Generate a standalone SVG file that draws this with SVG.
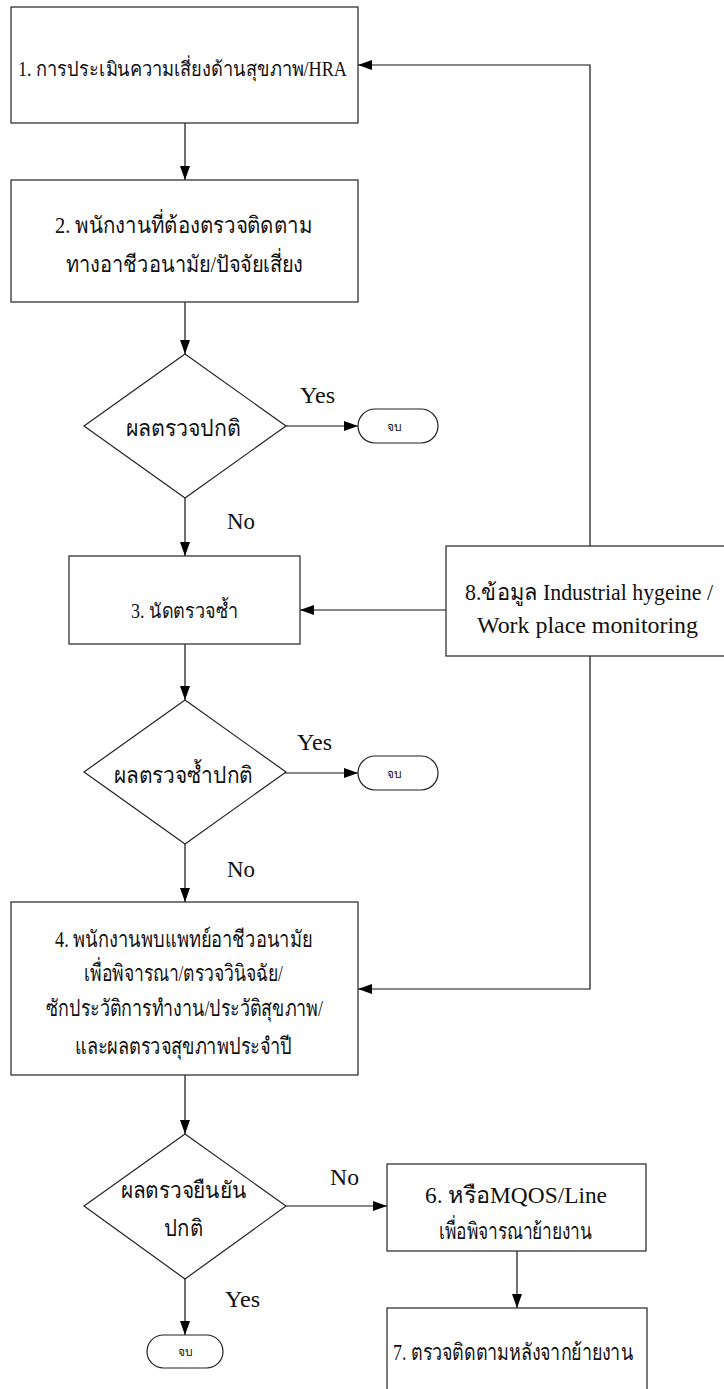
<svg xmlns="http://www.w3.org/2000/svg" width="724" height="1389" viewBox="0 0 724 1389">
<defs>
<marker id="arr" markerUnits="userSpaceOnUse" markerWidth="16" markerHeight="12" refX="15" refY="6" orient="auto">
<path d="M1,1 L15,6 L1,11 Z" fill="#000"/>
</marker>
<style>
.box{fill:#fff;stroke:#222;stroke-width:1.2}
.term{fill:#fff;stroke:#222;stroke-width:1.2}
.ln{fill:none;stroke:#111;stroke-width:1.2}
text{font-family:"Liberation Serif","Noto Sans",serif;fill:#111}
.t{font-size:23px}
.s{font-size:20px}
.lb{font-size:23px}
.e{font-size:12px}
</style>
</defs>
<rect width="724" height="1389" fill="#fff"/>
<g id="connectors">
<path class="ln" d="M185,123 V180" marker-end="url(#arr)"/>
<path class="ln" d="M185,302 V354" marker-end="url(#arr)"/>
<path class="ln" d="M285,426 H358" marker-end="url(#arr)"/>
<path class="ln" d="M185,498 V556" marker-end="url(#arr)"/>
<path class="ln" d="M185,644 V700" marker-end="url(#arr)"/>
<path class="ln" d="M285,773 H358" marker-end="url(#arr)"/>
<path class="ln" d="M185,844 V902" marker-end="url(#arr)"/>
<path class="ln" d="M185,1075 V1134" marker-end="url(#arr)"/>
<path class="ln" d="M285,1206 H387" marker-end="url(#arr)"/>
<path class="ln" d="M185,1279 V1335" marker-end="url(#arr)"/>
<path class="ln" d="M517,1251 V1308" marker-end="url(#arr)"/>
<path class="ln" d="M590,546 V65 H358" marker-end="url(#arr)"/>
<path class="ln" d="M446,610 H300" marker-end="url(#arr)"/>
<path class="ln" d="M590,656 V989 H358" marker-end="url(#arr)"/>
<text class="lb" x="300" y="403" textLength="35" lengthAdjust="spacingAndGlyphs">Yes</text>
<text class="lb" x="227" y="529" textLength="28" lengthAdjust="spacingAndGlyphs">No</text>
<text class="lb" x="297" y="750" textLength="35" lengthAdjust="spacingAndGlyphs">Yes</text>
<text class="lb" x="227" y="877" textLength="28" lengthAdjust="spacingAndGlyphs">No</text>
<text class="lb" x="330" y="1185" textLength="29" lengthAdjust="spacingAndGlyphs">No</text>
<text class="lb" x="225" y="1307" textLength="35" lengthAdjust="spacingAndGlyphs">Yes</text>
</g>
<g id="n1">
<rect class="box" x="11" y="7" width="347" height="116"/>
<text class="s" x="18" y="76" textLength="329" lengthAdjust="spacingAndGlyphs">1. การประเมินความเสี่ยงด้านสุขภาพ/HRA</text>
</g>
<g id="n2">
<rect class="box" x="11" y="180" width="347" height="122"/>
<text class="t" x="55" y="233" textLength="257" lengthAdjust="spacingAndGlyphs">2. พนักงานที่ต้องตรวจติดตาม</text>
<text class="t" x="66" y="272" textLength="237" lengthAdjust="spacingAndGlyphs">ทางอาชีวอนามัย/ปัจจัยเสี่ยง</text>
</g>
<g id="d1">
<polygon class="box" points="185,354 286,426 185,498 84,426"/>
<text class="t" x="126" y="436" textLength="115" lengthAdjust="spacingAndGlyphs">ผลตรวจปกติ</text>
</g>
<g id="e1">
<rect class="term" x="358" y="409" width="80" height="34" rx="17"/>
<text class="e" x="394" y="431" text-anchor="middle">จบ</text>
</g>
<g id="n3">
<rect class="box" x="69" y="556" width="231" height="88"/>
<text class="s" x="131" y="618" textLength="107" lengthAdjust="spacingAndGlyphs">3. นัดตรวจซ้ำ</text>
</g>
<g id="n8">
<rect class="box" x="446" y="546" width="300" height="110"/>
<text class="lb" x="465" y="600" textLength="248" lengthAdjust="spacingAndGlyphs">8.ข้อมูล Industrial hygeine /</text>
<text class="lb" x="477" y="633" textLength="221" lengthAdjust="spacingAndGlyphs">Work place monitoring</text>
</g>
<g id="d2">
<polygon class="box" points="185,700 286,772 185,844 84,772"/>
<text class="t" x="114" y="783" textLength="139" lengthAdjust="spacingAndGlyphs">ผลตรวจซ้ำปกติ</text>
</g>
<g id="e2">
<rect class="term" x="358" y="756" width="80" height="34" rx="17"/>
<text class="e" x="394" y="778" text-anchor="middle">จบ</text>
</g>
<g id="n4">
<rect class="box" x="11" y="902" width="347" height="173"/>
<text class="t" x="55" y="947" textLength="257" lengthAdjust="spacingAndGlyphs">4. พนักงานพบแพทย์อาชีวอนามัย</text>
<text class="t" x="84" y="981" textLength="199" lengthAdjust="spacingAndGlyphs">เพื่อพิจารณา/ตรวจวินิจฉัย/</text>
<text class="t" x="46" y="1016" textLength="277" lengthAdjust="spacingAndGlyphs">ซักประวัติการทำงาน/ประวัติสุขภาพ/</text>
<text class="t" x="75" y="1054" textLength="217" lengthAdjust="spacingAndGlyphs">และผลตรวจสุขภาพประจำปี</text>
</g>
<g id="d3">
<polygon class="box" points="185,1134 286,1206 185,1279 84,1206"/>
<text class="t" x="121" y="1198" textLength="125" lengthAdjust="spacingAndGlyphs">ผลตรวจยืนยัน</text>
<text class="t" x="164" y="1236" textLength="39" lengthAdjust="spacingAndGlyphs">ปกติ</text>
</g>
<g id="n6">
<rect class="box" x="387" y="1164" width="259" height="87"/>
<text class="t" x="425" y="1203" textLength="182" lengthAdjust="spacingAndGlyphs">6. หรือMQOS/Line</text>
<text class="t" x="439" y="1239" textLength="153" lengthAdjust="spacingAndGlyphs">เพื่อพิจารณาย้ายงาน</text>
</g>
<g id="n7">
<rect class="box" x="387" y="1308" width="260" height="100"/>
<text class="t" x="393" y="1360" textLength="240" lengthAdjust="spacingAndGlyphs">7. ตรวจติดตามหลังจากย้ายงาน</text>
</g>
<g id="e3">
<rect class="term" x="147" y="1335" width="76" height="33" rx="16.5"/>
<text class="e" x="185" y="1356" text-anchor="middle">จบ</text>
</g>
</svg>
